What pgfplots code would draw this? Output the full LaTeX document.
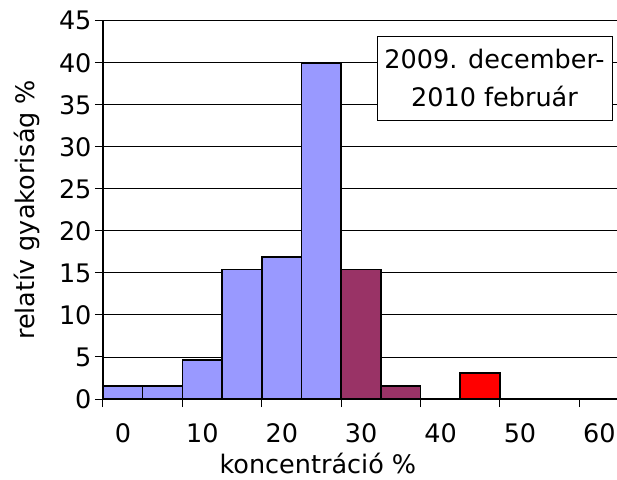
\documentclass[border=0pt]{standalone}
\usepackage{fontspec}
\setmainfont{DejaVu Sans}
\usepackage{pgfplots}
\pgfplotsset{compat=1.18}
\definecolor{cblue}{HTML}{9999FF}
\definecolor{cmaroon}{HTML}{993366}
\definecolor{cred}{HTML}{FF0000}
\newcommand{\bigfont}{\fontsize{25.5}{38}\selectfont}
\begin{document}
\begin{tikzpicture}
\begin{axis}[
  scale only axis, width=514pt, height=378.3pt,
  at={(0pt,0pt)}, anchor=south west,
  xmin=0, xmax=64.74, ymin=0, ymax=45,
  axis x line=bottom, axis y line=left,
  axis line style={-, line width=1.2pt, black},
  xtick={0,10,...,60}, ytick={0,5,...,45},
  tick align=outside, major tick length=8pt,
  tick style={black, line width=1pt},
  ymajorgrids, grid style={black, line width=0.9pt},
  /pgf/number format/assume math mode=true,
  tick label style={font=\bigfont},
  xticklabel style={xshift=20pt, yshift=-13pt},
  xlabel={koncentráció \%},
  ylabel={relatív gyakoriság \%},
  xlabel style={font=\bigfont, inner sep=1pt, at={(axis description cs:0.418,0)}, anchor=center, yshift=-64pt},
  ylabel style={font=\bigfont, at={(axis description cs:0,0.5)}, anchor=center, xshift=0pt, yshift=76pt},
  clip=false,
]
\addplot[ybar interval, fill=cblue, draw=black, line width=1.6pt]
  coordinates {(0,1.538) (5,1.538) (10,4.615) (15,15.385) (20,16.923) (25,40) (30,0)};
\addplot[ybar interval, fill=cmaroon, draw=black, line width=1.6pt]
  coordinates {(30,15.385) (35,1.538) (40,0)};
\addplot[ybar interval, fill=cred, draw=black, line width=1.6pt]
  coordinates {(45,3.077) (50,0)};
\node[draw=black, line width=0.8pt, fill=white, minimum width=235pt, minimum height=84pt,
      align=center, font=\bigfont, inner sep=0pt]
  at (rel axis cs:0.7617,0.8485) {2009. december-\\2010 február};
\end{axis}
\pgfresetboundingbox
\path[use as bounding box] (-103pt,-80pt) rectangle (514pt,399pt);
\end{tikzpicture}
\end{document}
